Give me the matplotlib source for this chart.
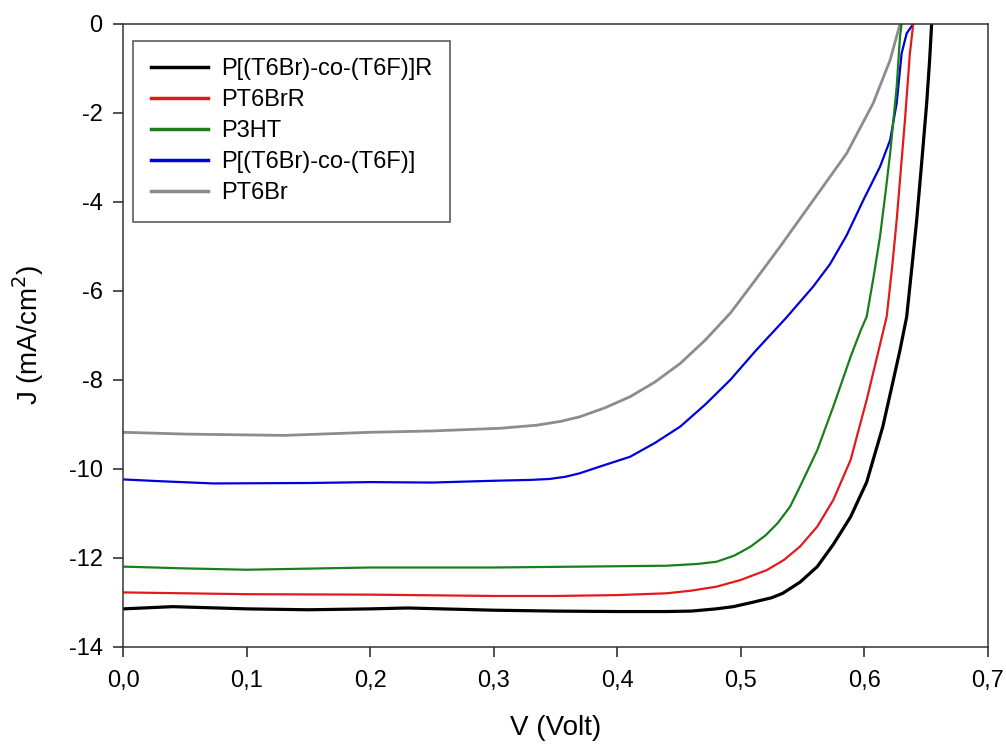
import matplotlib
matplotlib.use("Agg")
import matplotlib.pyplot as plt
from matplotlib.ticker import FuncFormatter

plt.rcParams["font.family"] = ["Liberation Sans", "DejaVu Sans"]

labels = ["P[(T6Br)-co-(T6F)]R", "PT6BrR", "P3HT", "P[(T6Br)-co-(T6F)]", "PT6Br"]
colors = ["#000000", "#e31a1c", "#1a7f1a", "#0000dd", "#8c8c8c"]
widths = [2.3, 1.6, 1.6, 1.6, 2.0]

# J-V curves, values
v_black = [0.0, 0.04, 0.1, 0.15, 0.2, 0.23, 0.3, 0.35, 0.4, 0.44, 0.46, 0.48,
           0.494, 0.51, 0.525, 0.534, 0.548, 0.562, 0.575, 0.589, 0.602, 0.615,
           0.622, 0.629, 0.6344, 0.6385, 0.6425, 0.6466, 0.6506, 0.653, 0.6546]
j_black = [-13.15, -13.10, -13.15, -13.17, -13.15, -13.13, -13.18, -13.2, -13.21,
           -13.21, -13.2, -13.15, -13.1, -13.0, -12.9, -12.8, -12.55, -12.2, -11.7,
           -11.08, -10.3, -9.06, -8.2, -7.33, -6.58, -5.5, -4.41, -3.1, -1.78,
           -0.8, 0.0]

v_red = [0.0, 0.1, 0.2, 0.3, 0.35, 0.4, 0.44, 0.46, 0.4805, 0.5, 0.521, 0.535,
         0.548, 0.562, 0.575, 0.589, 0.602, 0.612, 0.6182, 0.6225, 0.6263, 0.633,
         0.637, 0.6397]
j_red = [-12.78, -12.82, -12.83, -12.86, -12.86, -12.84, -12.8, -12.74, -12.65,
         -12.5, -12.28, -12.05, -11.75, -11.3, -10.7, -9.8, -8.45, -7.3, -6.58,
         -5.5, -4.41, -2.16, -0.66, 0.0]

v_green = [0.0, 0.05, 0.1, 0.2, 0.3, 0.44, 0.465, 0.4805, 0.495, 0.508, 0.52,
           0.53, 0.54, 0.548, 0.562, 0.575, 0.589, 0.597, 0.602, 0.6075, 0.6128,
           0.617, 0.621, 0.6263, 0.629, 0.6303]
j_green = [-12.2, -12.24, -12.27, -12.22, -12.22, -12.18, -12.14, -12.09, -11.95,
           -11.75, -11.5, -11.22, -10.85, -10.4, -9.58, -8.6, -7.48, -6.9, -6.58,
           -5.7, -4.78, -3.85, -2.91, -1.41, -0.28, 0.0]

v_blue = [0.0, 0.03, 0.073, 0.15, 0.2, 0.25, 0.3, 0.33, 0.345, 0.358, 0.3698,
          0.386, 0.4104, 0.4305, 0.4511, 0.4715, 0.4916, 0.512, 0.537, 0.5588,
          0.5723, 0.5858, 0.5993, 0.6128, 0.621, 0.6263, 0.6303, 0.6344, 0.6397]
j_blue = [-10.24, -10.28, -10.33, -10.32, -10.3, -10.31, -10.27, -10.25, -10.23,
          -10.18, -10.1, -9.95, -9.73, -9.42, -9.05, -8.55, -8.0, -7.35, -6.6,
          -5.9, -5.4, -4.75, -3.96, -3.21, -2.61, -1.78, -0.66, -0.21, 0.0]

v_gray = [0.0, 0.05, 0.13, 0.2, 0.25, 0.305, 0.335, 0.355, 0.3698, 0.39, 0.4104,
          0.4305, 0.4511, 0.4715, 0.4916, 0.512, 0.532, 0.5588, 0.5858, 0.6073,
          0.621, 0.629]
j_gray = [-9.18, -9.22, -9.25, -9.18, -9.15, -9.09, -9.02, -8.93, -8.83, -8.63,
          -8.38, -8.05, -7.63, -7.1, -6.5, -5.75, -5.0, -3.96, -2.91, -1.78,
          -0.81, 0.0]

series_v = [v_black, v_red, v_green, v_blue, v_gray]
series_j = [j_black, j_red, j_green, j_blue, j_gray]

fig = plt.figure(figsize=(10.06, 7.47), dpi=100)
ax = fig.add_axes([0.1226, 0.1343, 0.8592, 0.8336])

# draw back to front so black sits on top
for v, j, c, w, lab in reversed(list(zip(series_v, series_j, colors, widths, labels))):
    ax.plot(v, j, color=c, lw=w, label=lab)

ax.set_xlim(0, 0.7)
ax.set_ylim(-14, 0)
ax.set_xticks([0, 0.1, 0.2, 0.3, 0.4, 0.5, 0.6, 0.7])
ax.set_yticks(range(-14, 1, 2))
ax.xaxis.set_major_formatter(FuncFormatter(lambda x, p: f"{x:.1f}".replace(".", ",")))
ax.yaxis.set_major_formatter(FuncFormatter(lambda y, p: f"{int(round(y))}"))

ax.tick_params(axis="both", direction="out", length=7, width=1.1, labelsize=17,
               color="#222222", top=False, right=False)
ax.tick_params(axis="x", pad=10)
ax.tick_params(axis="y", pad=8)
for s in ax.spines.values():
    s.set_linewidth(1.1)
    s.set_color("#333333")

ax.set_xlabel("V (Volt)", fontsize=20, labelpad=16)
ax.set_ylabel("J (mA/cm$^2$)", fontsize=20, labelpad=16)

handles, labs = ax.get_legend_handles_labels()
leg = ax.legend(handles[::-1], labs[::-1], loc="upper left",
                bbox_to_anchor=(0.0116, 0.973), borderaxespad=0, fontsize=17,
                frameon=True, fancybox=False, edgecolor="#222222",
                handlelength=2.4, handletextpad=0.55, labelspacing=0.38,
                borderpad=0.75)
leg.get_frame().set_linewidth(1.1)
for line in leg.get_lines():
    line.set_linewidth(2.5)

plt.savefig("out.png", dpi=100)
